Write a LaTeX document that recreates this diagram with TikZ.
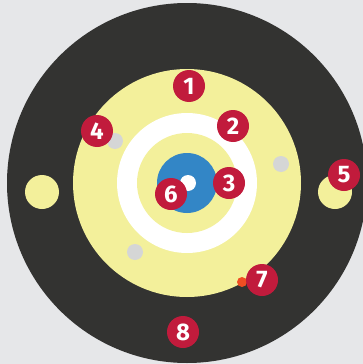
\documentclass[tikz,border=0pt]{standalone}
\usepackage{fontspec}
\setmainfont{Fira Sans}
\definecolor{bggrey}{HTML}{E6E7E9}
\definecolor{darkring}{HTML}{333331}
\definecolor{paleyellow}{HTML}{F3F09B}
\definecolor{coreblue}{HTML}{3386C6}
\definecolor{markred}{HTML}{C11B3C}
\definecolor{dotgrey}{HTML}{D5D6D6}
\definecolor{dotorange}{HTML}{F04E23}
\begin{document}
\begin{tikzpicture}[x=1pt, y=-1pt,
    every node/.style={circle, fill=markred, text=white, inner sep=0pt, minimum size=32pt,
        font=\fontsize{24}{24}\selectfont\bfseries}]
        \clip (0,0) rectangle (363,364);
        \fill[bggrey] (0,0) rectangle (363,364);
        \fill[darkring] (187,183) circle (180);
        \fill[paleyellow] (187,183) circle (114);
        \fill[white] (187,183) circle (70);
        \fill[paleyellow] (187,183) circle (50);
        \fill[coreblue] (187,183) circle (30);
        \fill[white] (188,183) circle (8);
        \fill[paleyellow] (42,192) circle (17);
        \fill[paleyellow] (335,192) circle (17);
        \foreach \x/\y in {115/141,281/164,135/252} {
            \fill[dotgrey] (\x,\y) circle (8);
        }
        \fill[dotorange] (242,282) circle (5);
        \foreach \i/\x/\y in {1/189/86,2/233/126,3/229/183,4/97/131,5/344/175,6/171/194,7/262/280,8/183/332} {
            \node (m\i) at (\x,\y) {\i};
        }
    \end{tikzpicture}
\end{document}
